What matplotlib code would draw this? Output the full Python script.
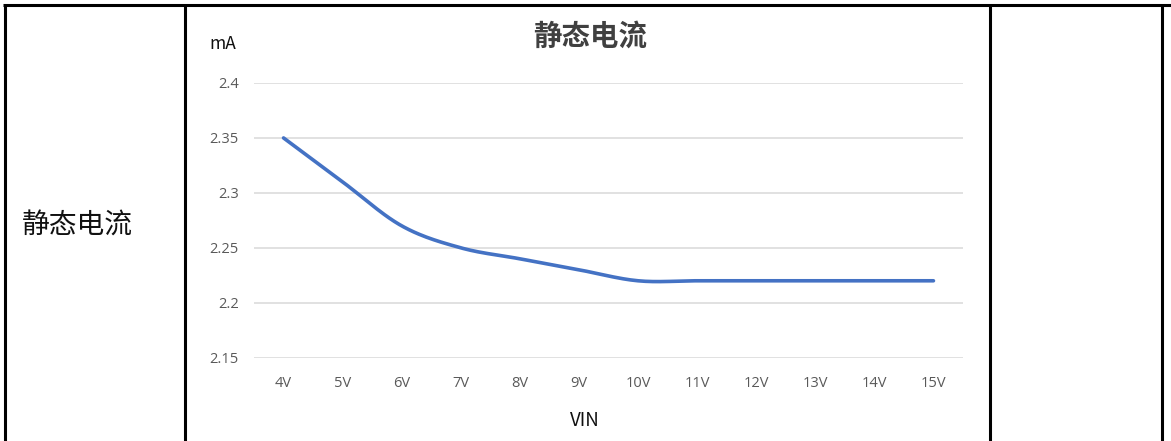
import numpy as np
import matplotlib
matplotlib.use("Agg")
import matplotlib.pyplot as plt
from matplotlib.lines import Line2D

plt.rcParams["font.family"] = ["Noto Sans CJK SC", "DejaVu Sans"]

# quiescent current vs input voltage
vin_labels = ["4V", "5V", "6V", "7V", "8V", "9V", "10V", "11V", "12V", "13V", "14V", "15V"]
current_ma = [2.35, 2.31, 2.27, 2.25, 2.24, 2.23, 2.22, 2.22, 2.22, 2.22, 2.22, 2.22]
y_ticks = [2.15, 2.2, 2.25, 2.3, 2.35, 2.4]
y_tick_labels = ["2.15", "2.2", "2.25", "2.3", "2.35", "2.4"]

W, H = 1171, 441


def fx(px):
    return px / W


def fy(py):
    return 1 - py / H


def catmull_rom(xs, ys, steps=24):
    """Smoothed curve through the points (like a spreadsheet 'smoothed line')."""
    p = np.column_stack([xs, ys]).astype(float)
    p = np.vstack([2 * p[0] - p[1], p, 2 * p[-1] - p[-2]])
    out = []
    t = np.linspace(0, 1, steps, endpoint=False)[:, None]
    for i in range(1, len(p) - 2):
        p0, p1, p2, p3 = p[i - 1], p[i], p[i + 1], p[i + 2]
        seg = 0.5 * ((2 * p1) + (-p0 + p2) * t
                     + (2 * p0 - 5 * p1 + 4 * p2 - p3) * t ** 2
                     + (-p0 + 3 * p1 - 3 * p2 + p3) * t ** 3)
        out.append(seg)
    out.append(p[-2][None, :])
    out = np.vstack(out)
    return out[:, 0], out[:, 1]


fig = plt.figure(figsize=(W / 100, H / 100), dpi=100)

# table borders
black = "#000000"
for x0, y0, x1, y1 in [(3, 5, 1171, 5), (5, 5, 5, 441), (185, 5, 185, 441),
                       (990, 5, 990, 441), (1162, 5, 1162, 441)]:
    fig.add_artist(Line2D([fx(x0), fx(x1)], [fy(y0), fy(y1)], color=black, lw=2.2,
                          transform=fig.transFigure, solid_capstyle="butt"))

fig.text(fx(22), fy(226), "静态电流", fontsize=20, color="#111111",
         ha="left", va="center")

ax = fig.add_axes([fx(254), fy(357.7), fx(963 - 254), (357.7 - 83) / H])
x = np.arange(len(vin_labels))
sx, sy = catmull_rom(x, current_ma)
ax.plot(sx, sy, color="#4472C4", lw=2.6, solid_capstyle="round")

ax.set_xlim(-0.5, len(vin_labels) - 0.5)
ax.set_ylim(2.15, 2.4)
ax.set_yticks(y_ticks)
ax.set_yticklabels(y_tick_labels)
ax.set_xticks(x)
ax.set_xticklabels(vin_labels)
ax.grid(axis="y", color="#DCDCDC", lw=1.2)
ax.set_axisbelow(True)
for s in ax.spines.values():
    s.set_visible(False)
ax.tick_params(axis="both", length=0, labelsize=10.5, labelcolor="#595959")
ax.tick_params(axis="x", pad=13)
ax.tick_params(axis="y", pad=11)
for lbl in ax.get_xticklabels() + ax.get_yticklabels():
    lbl.set_family(["Open Sans", "DejaVu Sans"])

fig.text(fx(590), fy(37), "静态电流", fontsize=20.5, fontweight="bold",
         color="#404040", ha="center", va="center")
fig.text(fx(223), fy(44), "mA", fontsize=12.5, color="#111111", ha="center", va="center")
fig.text(fx(585), fy(421), "VIN", fontsize=13.5, color="#111111", ha="center", va="center")

fig.savefig("out.png", dpi=100)
